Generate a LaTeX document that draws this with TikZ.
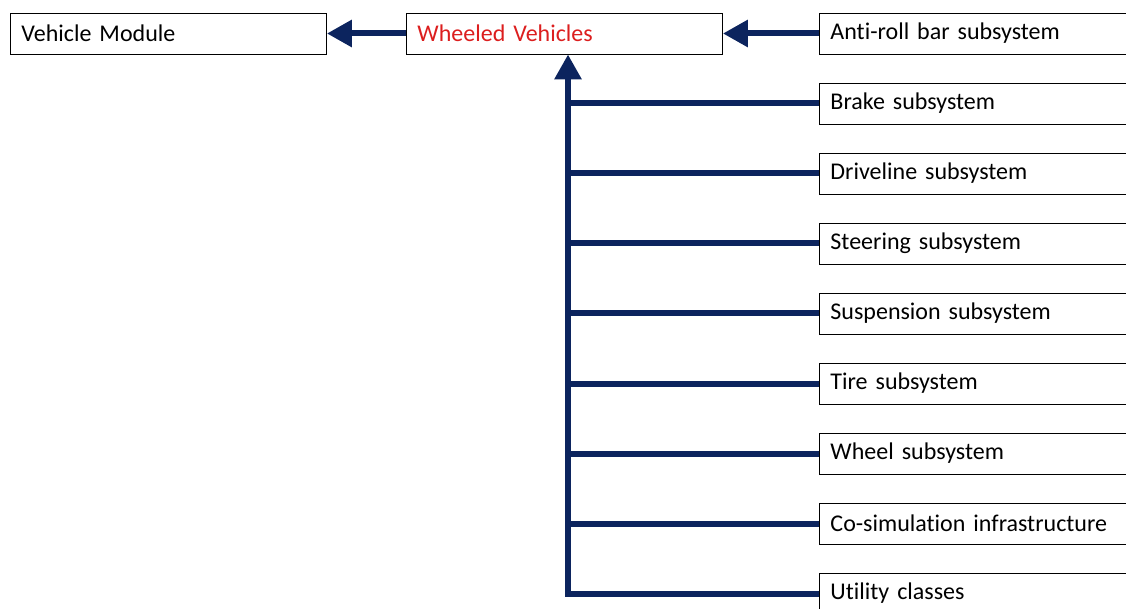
\documentclass[tikz,border=0pt]{standalone}
\usepackage{fontspec}
\setmainfont{Carlito}[Ligatures=NoCommon]
\usetikzlibrary{arrows.meta}
\definecolor{navy}{RGB}{12,36,94}
\definecolor{redtxt}{RGB}{220,30,30}
\tikzset{
  box/.style={draw=black, line width=0.9pt, fill=white, anchor=west, minimum height=41pt,
    text width=#1, inner xsep=11pt, align=left, font=\fontsize{24}{28}\selectfont},
  box/.default=294pt,
  conn/.style={draw=navy, line width=6pt},
  arr/.style={conn, -{Triangle[length=25pt,width=26pt]}},
}
\begin{document}
\begin{tikzpicture}[x=1pt,y=-1pt]
\useasboundingbox (0,0) rectangle (1126,609);
\clip (0,0) rectangle (1126,609);
\node[box=294pt] (vm) at (10,33.5) {Vehicle Module};
\node[box=294pt, text=redtxt] (wv) at (406,33.5) {Wheeled Vehicles};
\node[box=330pt] (ar) at (819,33.5) {Anti-roll bar subsystem};
\node[box=330pt] (br) at (819,103.5) {Brake subsystem};
\node[box=330pt] (dl) at (819,173.5) {Driveline subsystem};
\node[box=330pt] (st) at (819,243.5) {Steering subsystem};
\node[box=330pt] (su) at (819,313.5) {Suspension subsystem};
\node[box=330pt] (ti) at (819,383.5) {Tire subsystem};
\node[box=330pt] (wh) at (819,453.5) {Wheel subsystem};
\node[box=330pt] (co) at (819,523.5) {Co-simulation infrastructure};
\node[box=330pt] (ut) at (819,593.5) {Utility classes};
\coordinate (t) at (568,593.5);
\draw[arr] (ar.west) -- (wv.east);
\draw[arr] (wv.west) -- (vm.east);
\draw[arr] (ut.west) -- (t) -- (t |- wv.south);
\foreach \n in {br,dl,st,su,ti,wh,co} \draw[conn] (\n.west) -- (t |- \n.west);
\end{tikzpicture}
\end{document}
